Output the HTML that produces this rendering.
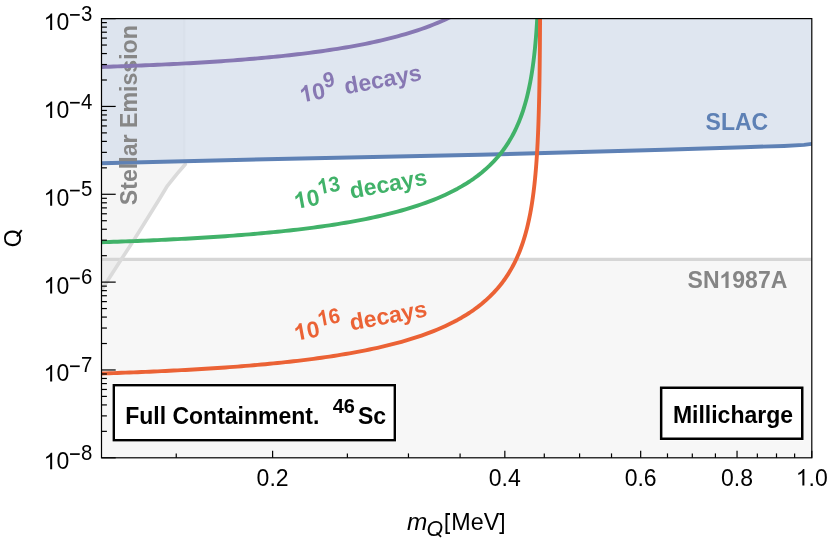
<!DOCTYPE html>
<html><head><meta charset="utf-8"><title>Millicharge</title>
<style>
html,body{margin:0;padding:0;background:#fff;}
body{width:830px;height:545px;overflow:hidden;position:relative;}
svg{position:absolute;left:0;top:0;display:block;will-change:transform;}
text{font-family:"Liberation Sans",sans-serif;}
</style></head><body>
<svg width="830" height="545" viewBox="0 0 830 545">
<rect x="0" y="0" width="830" height="545" fill="#ffffff"/>
<defs><clipPath id="pc"><rect x="101.5" y="18.6" width="710.3" height="439.2"/></clipPath></defs>
<g clip-path="url(#pc)">
  <!-- SN1987A -->
  <rect x="101.5" y="259.4" width="710.3" height="198.40000000000003" fill="#f7f7f7"/>
  <!-- stellar emission fill -->
  <path d="M101.50,290.10 L101.50,290.10 L108.50,279.30 L120.70,260.30 L133.60,240.50 L149.50,215.00 L160.20,197.70 L165.90,188.20 L167.60,185.60 L177.00,173.90 L185.30,164.30 L185.00,163.60 L185.00,161.00 L101.50,163.20 Z" fill="#c8c8c8" fill-opacity="0.19"/>
  <!-- SLAC fill -->
  <path d="M101.50,163.20 L266.00,159.20 L480.00,154.80 L646.00,150.20 L664.00,149.80 L744.00,147.20 L784.00,145.95 L804.00,144.90 L811.80,143.90 L811.80,18.60 L101.50,18.60 Z" fill="#5E81B5" fill-opacity="0.2"/>
  <path d="M101.50,163.20 L185.00,161.20 L185.00,18.60 L101.50,18.60 Z" fill="#404040" fill-opacity="0.012"/>
  <line x1="184.3" y1="18.6" x2="184.3" y2="160.5" stroke="#555" stroke-opacity="0.02" stroke-width="2.8"/>
  <line x1="101.5" y1="259.4" x2="811.8" y2="259.4" stroke="#d6d6d6" stroke-width="3.4"/>
  <path d="M101.50,290.10 L108.50,279.30 L120.70,260.30 L133.60,240.50 L149.50,215.00 L160.20,197.70 L165.90,188.20 L167.60,185.60 L177.00,173.90 L185.30,164.30" fill="none" stroke="#dadada" stroke-width="3.6" stroke-linecap="round" stroke-linejoin="round"/>
  <path d="M101.50,163.20 L266.00,159.20 L480.00,154.80 L646.00,150.20 L664.00,149.80 L744.00,147.20 L784.00,145.95 L804.00,144.90 L811.80,143.90" fill="none" stroke="#5E81B5" stroke-width="3.9" stroke-linejoin="round"/>
  <text transform="translate(137.3,205.2) rotate(-90)" font-size="23.15" font-weight="bold" fill="#878787">Stellar Emission</text>
  <path d="M101.50,66.94 L105.50,66.81 L109.50,66.68 L113.50,66.54 L117.50,66.40 L121.50,66.26 L125.50,66.11 L129.50,65.96 L133.50,65.81 L137.50,65.65 L141.50,65.49 L145.50,65.32 L149.50,65.15 L153.50,64.98 L157.50,64.80 L161.50,64.61 L165.50,64.42 L169.50,64.23 L173.50,64.03 L177.50,63.83 L181.50,63.62 L185.50,63.40 L189.50,63.18 L193.50,62.96 L197.50,62.72 L201.50,62.49 L205.50,62.24 L209.50,61.99 L213.50,61.73 L217.50,61.46 L221.50,61.19 L225.50,60.91 L229.50,60.62 L233.50,60.33 L237.50,60.03 L241.50,59.71 L245.50,59.39 L249.50,59.06 L253.50,58.72 L257.50,58.38 L261.50,58.02 L265.50,57.65 L269.50,57.27 L273.50,56.88 L277.50,56.48 L281.50,56.07 L285.50,55.64 L289.50,55.21 L293.50,54.76 L297.50,54.29 L301.50,53.82 L305.50,53.33 L309.50,52.82 L313.50,52.30 L317.50,51.76 L321.50,51.21 L325.50,50.63 L329.50,50.04 L333.50,49.44 L337.50,48.81 L341.50,48.16 L345.50,47.49 L349.50,46.80 L353.50,46.08 L357.50,45.34 L361.50,44.58 L365.50,43.79 L369.50,42.97 L373.50,42.12 L377.50,41.24 L381.50,40.33 L385.50,39.38 L389.50,38.40 L393.50,37.38 L397.50,36.32 L401.50,35.22 L405.50,34.08 L409.50,32.89 L413.50,31.64 L417.50,30.34 L421.50,28.99 L425.50,27.57 L429.50,26.09 L433.50,24.54 L437.50,22.91 L441.50,21.20 L445.50,19.40 L449.50,17.50 L453.50,15.50 L457.50,13.38" fill="none" stroke="#8778B3" stroke-width="3.9" stroke-linejoin="round"/>
  <path d="M101.50,242.22 L105.50,242.09 L109.50,241.96 L113.50,241.82 L117.50,241.68 L121.50,241.54 L125.50,241.39 L129.50,241.24 L133.50,241.09 L137.50,240.93 L141.50,240.77 L145.50,240.60 L149.50,240.43 L153.50,240.26 L157.50,240.08 L161.50,239.89 L165.50,239.70 L169.50,239.51 L173.50,239.31 L177.50,239.11 L181.50,238.90 L185.50,238.68 L189.50,238.46 L193.50,238.24 L197.50,238.00 L201.50,237.77 L205.50,237.52 L209.50,237.27 L213.50,237.01 L217.50,236.74 L221.50,236.47 L225.50,236.19 L229.50,235.90 L233.50,235.61 L237.50,235.31 L241.50,234.99 L245.50,234.67 L249.50,234.34 L253.50,234.00 L257.50,233.66 L261.50,233.30 L265.50,232.93 L269.50,232.55 L273.50,232.16 L277.50,231.76 L281.50,231.35 L285.50,230.92 L289.50,230.49 L293.50,230.04 L297.50,229.57 L301.50,229.10 L305.50,228.61 L309.50,228.10 L313.50,227.58 L317.50,227.04 L321.50,226.49 L325.50,225.91 L329.50,225.32 L333.50,224.72 L337.50,224.09 L341.50,223.44 L345.50,222.77 L349.50,222.08 L353.50,221.36 L357.50,220.62 L361.50,219.86 L365.50,219.07 L369.50,218.25 L373.50,217.40 L377.50,216.52 L381.50,215.61 L385.50,214.66 L389.50,213.68 L393.50,212.66 L397.50,211.60 L401.50,210.50 L405.50,209.36 L409.50,208.17 L413.50,206.92 L417.50,205.62 L421.50,204.27 L425.50,202.85 L429.50,201.37 L433.50,199.82 L437.50,198.19 L441.50,196.48 L445.50,194.68 L449.50,192.78 L453.50,190.78 L457.50,188.66 L461.50,186.42 L465.50,184.03 L469.50,181.49 L473.50,178.77 L477.50,175.86 L481.50,172.73 L485.50,169.34 L489.50,165.67 L493.50,161.65 L497.50,157.24 L500.00,154.24 L501.00,152.99 L502.00,151.69 L503.00,150.37 L504.00,149.00 L505.00,147.59 L506.00,146.14 L507.00,144.64 L508.00,143.09 L509.00,141.49 L510.00,139.83 L511.00,138.12 L512.00,136.34 L513.00,134.49 L514.00,132.57 L515.00,130.57 L516.00,128.49 L517.00,126.31 L518.00,124.04 L519.00,121.65 L520.00,119.15 L521.00,116.51 L522.00,113.72 L523.00,110.78 L524.00,107.65 L525.00,104.31 L526.00,100.75 L527.00,96.91 L528.00,92.77 L529.00,88.27 L530.00,83.35 L530.10,82.83 L530.20,82.30 L530.30,81.78 L530.40,81.24 L530.50,80.70 L530.60,80.15 L530.70,79.60 L530.80,79.04 L530.90,78.48 L531.00,77.91 L531.10,77.33 L531.20,76.75 L531.30,76.16 L531.40,75.57 L531.50,74.96 L531.60,74.35 L531.70,73.74 L531.80,73.11 L531.90,72.48 L532.00,71.84 L532.10,71.19 L532.20,70.54 L532.30,69.88 L532.40,69.20 L532.50,68.52 L532.60,67.83 L532.70,67.14 L532.80,66.43 L532.90,65.71 L533.00,64.98 L533.10,64.25 L533.20,63.50 L533.30,62.74 L533.40,61.97 L533.50,61.19 L533.60,60.40 L533.70,59.59 L533.80,58.78 L533.90,57.95 L534.00,57.10 L534.10,56.25 L534.20,55.38 L534.30,54.49 L534.40,53.59 L534.50,52.68 L534.60,51.75 L534.70,50.80 L534.80,49.84 L534.90,48.85 L535.00,47.85 L535.10,46.83 L535.20,45.79 L535.30,44.73 L535.40,43.65 L535.50,42.55 L535.60,41.42 L535.70,40.27 L535.80,39.09 L535.90,37.89 L536.00,36.66 L536.10,35.40 L536.20,34.11 L536.30,32.78 L536.40,31.43 L536.50,30.04 L536.60,28.61 L536.70,27.14 L536.80,25.64 L536.90,24.09 L537.00,22.49 L537.10,20.85 L537.20,19.15 L537.30,17.40 L537.40,15.58 L537.50,13.71" fill="none" stroke="#41B269" stroke-width="3.9" stroke-linejoin="round"/>
  <path d="M101.50,373.48 L105.50,373.35 L109.50,373.22 L113.50,373.08 L117.50,372.94 L121.50,372.80 L125.50,372.65 L129.50,372.50 L133.50,372.35 L137.50,372.19 L141.50,372.03 L145.50,371.86 L149.50,371.69 L153.50,371.52 L157.50,371.34 L161.50,371.15 L165.50,370.96 L169.50,370.77 L173.50,370.57 L177.50,370.37 L181.50,370.16 L185.50,369.94 L189.50,369.72 L193.50,369.50 L197.50,369.26 L201.50,369.03 L205.50,368.78 L209.50,368.53 L213.50,368.27 L217.50,368.00 L221.50,367.73 L225.50,367.45 L229.50,367.16 L233.50,366.87 L237.50,366.57 L241.50,366.25 L245.50,365.93 L249.50,365.60 L253.50,365.26 L257.50,364.92 L261.50,364.56 L265.50,364.19 L269.50,363.81 L273.50,363.42 L277.50,363.02 L281.50,362.61 L285.50,362.18 L289.50,361.75 L293.50,361.30 L297.50,360.83 L301.50,360.36 L305.50,359.87 L309.50,359.36 L313.50,358.84 L317.50,358.30 L321.50,357.75 L325.50,357.17 L329.50,356.58 L333.50,355.98 L337.50,355.35 L341.50,354.70 L345.50,354.03 L349.50,353.34 L353.50,352.62 L357.50,351.88 L361.50,351.12 L365.50,350.33 L369.50,349.51 L373.50,348.66 L377.50,347.78 L381.50,346.87 L385.50,345.92 L389.50,344.94 L393.50,343.92 L397.50,342.86 L401.50,341.76 L405.50,340.62 L409.50,339.43 L413.50,338.18 L417.50,336.88 L421.50,335.53 L425.50,334.11 L429.50,332.63 L433.50,331.08 L437.50,329.45 L441.50,327.74 L445.50,325.94 L449.50,324.04 L453.50,322.04 L457.50,319.92 L461.50,317.68 L465.50,315.29 L469.50,312.75 L473.50,310.03 L477.50,307.12 L481.50,303.99 L485.50,300.60 L489.50,296.93 L493.50,292.91 L497.50,288.50 L500.00,285.50 L501.00,284.25 L502.00,282.95 L503.00,281.63 L504.00,280.26 L505.00,278.85 L506.00,277.40 L507.00,275.90 L508.00,274.35 L509.00,272.75 L510.00,271.09 L511.00,269.38 L512.00,267.60 L513.00,265.75 L514.00,263.83 L515.00,261.83 L516.00,259.75 L517.00,257.57 L518.00,255.30 L519.00,252.91 L520.00,250.41 L521.00,247.77 L522.00,244.98 L523.00,242.04 L524.00,238.91 L525.00,235.57 L526.00,232.01 L527.00,228.17 L528.00,224.03 L529.00,219.53 L530.00,214.61 L530.10,214.09 L530.20,213.56 L530.30,213.04 L530.40,212.50 L530.50,211.96 L530.60,211.41 L530.70,210.86 L530.80,210.30 L530.90,209.74 L531.00,209.17 L531.10,208.59 L531.20,208.01 L531.30,207.42 L531.40,206.83 L531.50,206.22 L531.60,205.61 L531.70,205.00 L531.80,204.37 L531.90,203.74 L532.00,203.10 L532.10,202.45 L532.20,201.80 L532.30,201.14 L532.40,200.46 L532.50,199.78 L532.60,199.09 L532.70,198.40 L532.80,197.69 L532.90,196.97 L533.00,196.24 L533.10,195.51 L533.20,194.76 L533.30,194.00 L533.40,193.23 L533.50,192.45 L533.60,191.66 L533.70,190.85 L533.80,190.04 L533.90,189.21 L534.00,188.36 L534.10,187.51 L534.20,186.64 L534.30,185.75 L534.40,184.85 L534.50,183.94 L534.60,183.01 L534.70,182.06 L534.80,181.10 L534.90,180.11 L535.00,179.11 L535.10,178.09 L535.20,177.05 L535.30,175.99 L535.40,174.91 L535.50,173.81 L535.60,172.68 L535.70,171.53 L535.80,170.35 L535.90,169.15 L536.00,167.92 L536.10,166.66 L536.20,165.37 L536.30,164.04 L536.40,162.69 L536.50,161.30 L536.60,159.87 L536.70,158.40 L536.80,156.90 L536.90,155.35 L537.00,153.75 L537.10,152.11 L537.20,150.41 L537.30,148.66 L537.40,146.84 L537.50,144.97 L537.60,143.03 L537.70,141.02 L537.80,138.92 L537.90,136.75 L538.00,134.48 L538.10,132.12 L538.20,129.64 L538.30,127.05 L538.40,124.33 L538.50,121.46 L538.60,118.43 L538.70,115.23 L538.80,111.82 L538.90,108.19 L539.00,104.29 L539.10,100.09 L539.20,95.55 L539.30,90.58 L539.40,85.12 L539.50,79.05 L539.60,72.22 L539.70,64.41 L539.80,55.29 L539.90,44.33 L540.00,30.60 L540.10,12.21" fill="none" stroke="#EB6235" stroke-width="3.9" stroke-linejoin="round"/>
</g>
<!-- curve labels -->
<g transform="translate(301.30,102.60) rotate(-10.60)" font-weight="bold" fill="#8778B3"><path transform="translate(0.00,0.00) scale(23.0000,-23.0000)" d="M0.3936 0H0.2563V0.5171Q0.1812 0.4468 0.0791 0.4131V0.5376Q0.1328 0.5552 0.1958 0.6043Q0.2588 0.6533 0.2822 0.7188H0.3936Z"/><text x="12.79" font-size="23.0">0</text><text transform="translate(25.58,-10.00) scale(0.950,1)" font-size="21.5" font-weight="bold" font-style="normal">9</text><text x="45.33" font-size="23.0">decays</text></g>
<g transform="translate(295.60,209.10) rotate(-10.60)" font-weight="bold" fill="#41B269"><path transform="translate(0.00,0.00) scale(23.0000,-23.0000)" d="M0.3936 0H0.2563V0.5171Q0.1812 0.4468 0.0791 0.4131V0.5376Q0.1328 0.5552 0.1958 0.6043Q0.2588 0.6533 0.2822 0.7188H0.3936Z"/><text x="12.79" font-size="23.0">0</text><path transform="translate(25.58,-10.00) scale(20.4250,-21.5000)" d="M0.3936 0H0.2563V0.5171Q0.1812 0.4468 0.0791 0.4131V0.5376Q0.1328 0.5552 0.1958 0.6043Q0.2588 0.6533 0.2822 0.7188H0.3936Z"/><text transform="translate(36.93,-10.00) scale(0.950,1)" font-size="21.5" font-weight="bold" font-style="normal">3</text><text x="56.68" font-size="23.0">decays</text></g>
<g transform="translate(295.60,340.90) rotate(-10.60)" font-weight="bold" fill="#EB6235"><path transform="translate(0.00,0.00) scale(23.0000,-23.0000)" d="M0.3936 0H0.2563V0.5171Q0.1812 0.4468 0.0791 0.4131V0.5376Q0.1328 0.5552 0.1958 0.6043Q0.2588 0.6533 0.2822 0.7188H0.3936Z"/><text x="12.79" font-size="23.0">0</text><path transform="translate(25.58,-10.00) scale(20.4250,-21.5000)" d="M0.3936 0H0.2563V0.5171Q0.1812 0.4468 0.0791 0.4131V0.5376Q0.1328 0.5552 0.1958 0.6043Q0.2588 0.6533 0.2822 0.7188H0.3936Z"/><text transform="translate(36.93,-10.00) scale(0.950,1)" font-size="21.5" font-weight="bold" font-style="normal">6</text><text x="56.68" font-size="23.0">decays</text></g>
<text x="705.6" y="130.0" font-size="23.0" font-weight="bold" fill="#5E81B5">SLAC</text>
<g font-weight="bold" fill="#858585"><text x="687.6" y="288.0" font-size="23.0">SN</text><path transform="translate(719.55,288.00) scale(23.0000,-23.0000)" d="M0.3936 0H0.2563V0.5171Q0.1812 0.4468 0.0791 0.4131V0.5376Q0.1328 0.5552 0.1958 0.6043Q0.2588 0.6533 0.2822 0.7188H0.3936Z"/><text x="732.34" y="288.0" font-size="23.0">987A</text></g>
<!-- boxes -->
<rect x="112.1" y="383.5" width="284.4" height="58.4" fill="#ffffff"/>
<rect x="113.8" y="385.2" width="281.0" height="55.0" fill="#ffffff" stroke="#000" stroke-width="2.4"/>
<g font-weight="bold" fill="#000">
<text x="125.2" y="424.3" font-size="23.0">Full Containment.</text>
<text transform="translate(332.70,413.40) scale(0.970,1)" font-size="20.6" font-weight="bold" font-style="normal">46</text>
<text x="357.9" y="424.4" font-size="23.0">Sc</text>
</g>
<rect x="659.4" y="386.0" width="144.6" height="54.5" fill="#ffffff"/>
<rect x="661.15" y="387.75" width="141.1" height="51.0" fill="#ffffff" stroke="#000" stroke-width="2.5"/>
<text x="672.9" y="422.6" font-size="23.0" font-weight="bold" fill="#000">Millicharge</text>
<!-- frame + ticks -->
<g stroke="#000" stroke-width="1.2" fill="none">
<rect x="101.5" y="18.6" width="710.3" height="439.2"/>
<line x1="101.50" y1="457.80" x2="115.70" y2="457.80"/>
<line x1="101.50" y1="431.36" x2="106.90" y2="431.36"/>
<line x1="101.50" y1="415.89" x2="106.90" y2="415.89"/>
<line x1="101.50" y1="404.92" x2="106.90" y2="404.92"/>
<line x1="101.50" y1="396.40" x2="106.90" y2="396.40"/>
<line x1="101.50" y1="389.45" x2="106.90" y2="389.45"/>
<line x1="101.50" y1="383.57" x2="106.90" y2="383.57"/>
<line x1="101.50" y1="378.47" x2="106.90" y2="378.47"/>
<line x1="101.50" y1="373.98" x2="106.90" y2="373.98"/>
<line x1="101.50" y1="369.96" x2="115.70" y2="369.96"/>
<line x1="101.50" y1="343.52" x2="106.90" y2="343.52"/>
<line x1="101.50" y1="328.05" x2="106.90" y2="328.05"/>
<line x1="101.50" y1="317.08" x2="106.90" y2="317.08"/>
<line x1="101.50" y1="308.56" x2="106.90" y2="308.56"/>
<line x1="101.50" y1="301.61" x2="106.90" y2="301.61"/>
<line x1="101.50" y1="295.73" x2="106.90" y2="295.73"/>
<line x1="101.50" y1="290.63" x2="106.90" y2="290.63"/>
<line x1="101.50" y1="286.14" x2="106.90" y2="286.14"/>
<line x1="101.50" y1="282.12" x2="115.70" y2="282.12"/>
<line x1="101.50" y1="255.68" x2="106.90" y2="255.68"/>
<line x1="101.50" y1="240.21" x2="106.90" y2="240.21"/>
<line x1="101.50" y1="229.24" x2="106.90" y2="229.24"/>
<line x1="101.50" y1="220.72" x2="106.90" y2="220.72"/>
<line x1="101.50" y1="213.77" x2="106.90" y2="213.77"/>
<line x1="101.50" y1="207.89" x2="106.90" y2="207.89"/>
<line x1="101.50" y1="202.79" x2="106.90" y2="202.79"/>
<line x1="101.50" y1="198.30" x2="106.90" y2="198.30"/>
<line x1="101.50" y1="194.28" x2="115.70" y2="194.28"/>
<line x1="101.50" y1="167.84" x2="106.90" y2="167.84"/>
<line x1="101.50" y1="152.37" x2="106.90" y2="152.37"/>
<line x1="101.50" y1="141.40" x2="106.90" y2="141.40"/>
<line x1="101.50" y1="132.88" x2="106.90" y2="132.88"/>
<line x1="101.50" y1="125.93" x2="106.90" y2="125.93"/>
<line x1="101.50" y1="120.05" x2="106.90" y2="120.05"/>
<line x1="101.50" y1="114.95" x2="106.90" y2="114.95"/>
<line x1="101.50" y1="110.46" x2="106.90" y2="110.46"/>
<line x1="101.50" y1="106.44" x2="115.70" y2="106.44"/>
<line x1="101.50" y1="80.00" x2="106.90" y2="80.00"/>
<line x1="101.50" y1="64.53" x2="106.90" y2="64.53"/>
<line x1="101.50" y1="53.56" x2="106.90" y2="53.56"/>
<line x1="101.50" y1="45.04" x2="106.90" y2="45.04"/>
<line x1="101.50" y1="38.09" x2="106.90" y2="38.09"/>
<line x1="101.50" y1="32.21" x2="106.90" y2="32.21"/>
<line x1="101.50" y1="27.11" x2="106.90" y2="27.11"/>
<line x1="101.50" y1="22.62" x2="106.90" y2="22.62"/>
<line x1="101.50" y1="18.60" x2="115.70" y2="18.60"/>
<line x1="176.24" y1="457.80" x2="176.24" y2="453.40"/>
<line x1="272.61" y1="457.80" x2="272.61" y2="450.80"/>
<line x1="347.37" y1="457.80" x2="347.37" y2="453.40"/>
<line x1="408.45" y1="457.80" x2="408.45" y2="453.40"/>
<line x1="460.09" y1="457.80" x2="460.09" y2="453.40"/>
<line x1="504.83" y1="457.80" x2="504.83" y2="450.80"/>
<line x1="544.29" y1="457.80" x2="544.29" y2="453.40"/>
<line x1="579.59" y1="457.80" x2="579.59" y2="453.40"/>
<line x1="611.52" y1="457.80" x2="611.52" y2="453.40"/>
<line x1="640.67" y1="457.80" x2="640.67" y2="450.80"/>
<line x1="667.48" y1="457.80" x2="667.48" y2="453.40"/>
<line x1="692.31" y1="457.80" x2="692.31" y2="453.40"/>
<line x1="715.42" y1="457.80" x2="715.42" y2="453.40"/>
<line x1="737.04" y1="457.80" x2="737.04" y2="450.80"/>
<line x1="757.35" y1="457.80" x2="757.35" y2="453.40"/>
<line x1="776.50" y1="457.80" x2="776.50" y2="453.40"/>
<line x1="794.62" y1="457.80" x2="794.62" y2="453.40"/>
<line x1="811.80" y1="457.80" x2="811.80" y2="450.80"/>
</g>
<g fill="#000">
<path transform="translate(43.60,469.30) scale(23.0000,-23.0000)" d="M0.3726 0H0.2847V0.5601Q0.2529 0.5298 0.2014 0.4995Q0.1499 0.4692 0.1089 0.4541V0.5391Q0.1826 0.5737 0.2378 0.6230Q0.2930 0.6724 0.3159 0.7188H0.3726Z"/>
<text x="56.39" y="469.30" font-size="23.0">0</text>
<rect x="70.03" y="453.25" width="9.7" height="1.7"/>
<text transform="translate(81.10,460.00) scale(0.950,1)" font-size="21.5" font-weight="normal" font-style="normal">8</text>
<path transform="translate(43.60,381.46) scale(23.0000,-23.0000)" d="M0.3726 0H0.2847V0.5601Q0.2529 0.5298 0.2014 0.4995Q0.1499 0.4692 0.1089 0.4541V0.5391Q0.1826 0.5737 0.2378 0.6230Q0.2930 0.6724 0.3159 0.7188H0.3726Z"/>
<text x="56.39" y="381.46" font-size="23.0">0</text>
<rect x="70.03" y="365.41" width="9.7" height="1.7"/>
<text transform="translate(81.10,372.16) scale(0.950,1)" font-size="21.5" font-weight="normal" font-style="normal">7</text>
<path transform="translate(43.60,293.62) scale(23.0000,-23.0000)" d="M0.3726 0H0.2847V0.5601Q0.2529 0.5298 0.2014 0.4995Q0.1499 0.4692 0.1089 0.4541V0.5391Q0.1826 0.5737 0.2378 0.6230Q0.2930 0.6724 0.3159 0.7188H0.3726Z"/>
<text x="56.39" y="293.62" font-size="23.0">0</text>
<rect x="70.03" y="277.57" width="9.7" height="1.7"/>
<text transform="translate(81.10,284.32) scale(0.950,1)" font-size="21.5" font-weight="normal" font-style="normal">6</text>
<path transform="translate(43.60,205.78) scale(23.0000,-23.0000)" d="M0.3726 0H0.2847V0.5601Q0.2529 0.5298 0.2014 0.4995Q0.1499 0.4692 0.1089 0.4541V0.5391Q0.1826 0.5737 0.2378 0.6230Q0.2930 0.6724 0.3159 0.7188H0.3726Z"/>
<text x="56.39" y="205.78" font-size="23.0">0</text>
<rect x="70.03" y="189.73" width="9.7" height="1.7"/>
<text transform="translate(81.10,196.48) scale(0.950,1)" font-size="21.5" font-weight="normal" font-style="normal">5</text>
<path transform="translate(43.60,117.94) scale(23.0000,-23.0000)" d="M0.3726 0H0.2847V0.5601Q0.2529 0.5298 0.2014 0.4995Q0.1499 0.4692 0.1089 0.4541V0.5391Q0.1826 0.5737 0.2378 0.6230Q0.2930 0.6724 0.3159 0.7188H0.3726Z"/>
<text x="56.39" y="117.94" font-size="23.0">0</text>
<rect x="70.03" y="101.89" width="9.7" height="1.7"/>
<text transform="translate(81.10,108.64) scale(0.950,1)" font-size="21.5" font-weight="normal" font-style="normal">4</text>
<path transform="translate(43.60,30.10) scale(23.0000,-23.0000)" d="M0.3726 0H0.2847V0.5601Q0.2529 0.5298 0.2014 0.4995Q0.1499 0.4692 0.1089 0.4541V0.5391Q0.1826 0.5737 0.2378 0.6230Q0.2930 0.6724 0.3159 0.7188H0.3726Z"/>
<text x="56.39" y="30.10" font-size="23.0">0</text>
<rect x="70.03" y="14.05" width="9.7" height="1.7"/>
<text transform="translate(81.10,20.80) scale(0.950,1)" font-size="21.5" font-weight="normal" font-style="normal">3</text>
<text x="272.61" y="485.5" font-size="23.0" text-anchor="middle">0.2</text>
<text x="504.83" y="485.5" font-size="23.0" text-anchor="middle">0.4</text>
<text x="640.67" y="485.5" font-size="23.0" text-anchor="middle">0.6</text>
<text x="737.04" y="485.5" font-size="23.0" text-anchor="middle">0.8</text>
<path transform="translate(795.81,485.50) scale(23.0000,-23.0000)" d="M0.3726 0H0.2847V0.5601Q0.2529 0.5298 0.2014 0.4995Q0.1499 0.4692 0.1089 0.4541V0.5391Q0.1826 0.5737 0.2378 0.6230Q0.2930 0.6724 0.3159 0.7188H0.3726Z"/>
<text x="808.60" y="485.5" font-size="23.0">.0</text>
<g transform="translate(20.7,247.3) rotate(-90)"><text font-size="23.0">O</text><line x1="10.81" y1="-3.80" x2="17.14" y2="1.03" stroke="#000" stroke-width="1.89"/></g>
<text transform="translate(407.0,529.6) scale(1.06,1)" font-size="23.0" font-style="italic">m</text>
<g transform="translate(426.5,536.0)"><text font-size="21.2" font-style="italic">O</text><line x1="10.07" y1="-3.50" x2="14.53" y2="0.95" stroke="#000" stroke-width="1.74"/></g>
<text x="451.35" y="529.8" font-size="23.3">MeV</text>
<path d="M450.0,513.95H446.45V533.1H450.0 M499.4,513.95H502.95V533.1H499.4" fill="none" stroke="#000" stroke-width="1.9"/>
</g>
</svg>
</body></html>
